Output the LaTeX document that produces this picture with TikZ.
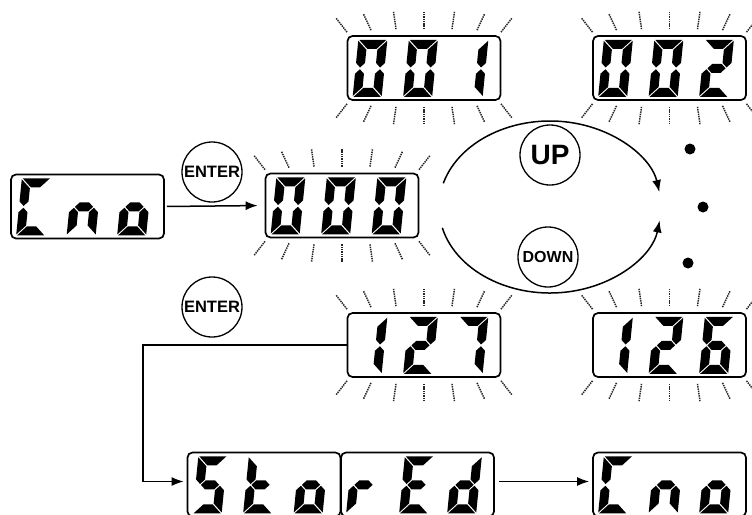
\documentclass[tikz,border=0pt]{standalone}
\usepackage{fontspec}
\newfontfamily\labfont{Liberation Sans}
\usetikzlibrary{arrows.meta,calc}
% seven-segment segments (local coords, y up, digit 29 x 57)
\newcommand\dsA{\fill[seg] (0.9,57)--(28.1,57)--(19.1,48)--(9.9,48)--cycle;}
\newcommand\dsD{\fill[seg] (0.9,0)--(28.1,0)--(19.1,9)--(9.9,9)--cycle;}
\newcommand\dsF{\fill[seg] (0,56.1)--(9,47.1)--(9,33.9)--(4.5,29.4)--(0,33.9)--cycle;}
\newcommand\dsB{\fill[seg] (29,56.1)--(29,33.9)--(24.5,29.4)--(20,33.9)--(20,47.1)--cycle;}
\newcommand\dsE{\fill[seg] (0,0.9)--(9,9.9)--(9,23.1)--(4.5,27.6)--(0,23.1)--cycle;}
\newcommand\dsC{\fill[seg] (29,0.9)--(29,23.1)--(24.5,27.6)--(20,23.1)--(20,9.9)--cycle;}
\newcommand\dsG{\fill[seg] (5.4,28.5)--(9.9,33)--(19.1,33)--(23.6,28.5)--(19.1,24)--(9.9,24)--cycle;}
\newcommand\segdigit[3]{\begin{scope}[x=1pt,y=1pt,shift={(#1.south west)},shift={(#2,4)},xslant=0.1]#3\end{scope}}
\newcommand\flashrays[1]{%
  \foreach \dx/\gy/\a in {-77/3/-38,-53/5/-25,-28/6/-8,0/6/0,28/6/8,53/5/25,77/3/38}{%
    \draw[ray] ($(#1.north)+(\dx,-\gy)$) -- ++({18*sin(\a)},{-18*cos(\a)});
    \draw[ray] ($(#1.south)+(\dx,\gy)$) -- ++({18*sin(\a)},{18*cos(\a)});
  }}
\tikzset{
  seg/.style={fill=black},
  disp/.style={draw, line width=1.7pt, rounded corners=5pt, minimum width=153pt, minimum height=64pt, inner sep=0pt},
  btn/.style={draw, circle, line width=1.3pt, minimum size=60pt, inner sep=0pt},
  ray/.style={line width=1.5pt, dash pattern=on 1.4pt off 0.9pt, black!85},
  conn/.style={line width=1.5pt},
  arrowed/.style={-{Latex[length=12pt,width=9pt]}},
  dotnode/.style={fill=black, circle, minimum size=11pt, inner sep=0pt}
}
\begin{document}
\begin{tikzpicture}[x=1pt,y=-1pt]
\path[use as bounding box] (0,0) rectangle (752,514);
\clip (0,0) rectangle (752,514);
% displays
\node[disp] (cno1) at (87.5,206.5) {};
\node[disp] (b000) at (342,205.5) {};
\node[disp] (b001) at (424,68) {};
\node[disp] (b002) at (669.5,68) {};
\node[disp] (b127) at (424,345) {};
\node[disp] (b126) at (669.5,345) {};
\node[disp] (bsto) at (264,484.5) {};
\node[disp] (bred) at (417.5,484.5) {};
\node[disp] (cno2) at (669.5,484.5) {};
% digits
\segdigit{cno1}{6}{\dsA\dsD\dsE\dsF}
\segdigit{cno1}{56.5}{\dsC\dsE\dsG}
\segdigit{cno1}{107}{\dsC\dsD\dsE\dsG}
\segdigit{b000}{6}{\dsA\dsB\dsC\dsD\dsE\dsF}
\segdigit{b000}{56.5}{\dsA\dsB\dsC\dsD\dsE\dsF}
\segdigit{b000}{107}{\dsA\dsB\dsC\dsD\dsE\dsF}
\segdigit{b001}{6}{\dsA\dsB\dsC\dsD\dsE\dsF}
\segdigit{b001}{56.5}{\dsA\dsB\dsC\dsD\dsE\dsF}
\segdigit{b001}{107}{\dsB\dsC}
\segdigit{b002}{6}{\dsA\dsB\dsC\dsD\dsE\dsF}
\segdigit{b002}{56.5}{\dsA\dsB\dsC\dsD\dsE\dsF}
\segdigit{b002}{107}{\dsA\dsB\dsG\dsE\dsD}
\segdigit{b127}{6}{\dsB\dsC}
\segdigit{b127}{56.5}{\dsA\dsB\dsG\dsE\dsD}
\segdigit{b127}{107}{\dsA\dsB\dsC}
\segdigit{b126}{6}{\dsB\dsC}
\segdigit{b126}{56.5}{\dsA\dsB\dsG\dsE\dsD}
\segdigit{b126}{107}{\dsA\dsF\dsG\dsE\dsD\dsC}
\segdigit{bsto}{6}{\dsA\dsF\dsG\dsC\dsD}
\segdigit{bsto}{56.5}{\dsD\dsE\dsF\dsG}
\segdigit{bsto}{107}{\dsC\dsD\dsE\dsG}
\segdigit{bred}{6}{\dsE\dsG}
\segdigit{bred}{59}{\dsA\dsD\dsE\dsF\dsG}
\segdigit{bred}{107}{\dsB\dsC\dsD\dsE\dsG}
\segdigit{cno2}{6}{\dsA\dsD\dsE\dsF}
\segdigit{cno2}{56.5}{\dsC\dsE\dsG}
\segdigit{cno2}{107}{\dsC\dsD\dsE\dsG}
% flashing rays
\flashrays{b000}
\flashrays{b001}
\flashrays{b002}
\flashrays{b127}
\flashrays{b126}
% buttons
\node[btn] (enter1) at (212,172) {\labfont\bfseries\fontsize{16.5}{18}\selectfont ENTER};
\node[btn] (enter2) at (212,307) {\labfont\bfseries\fontsize{16.5}{18}\selectfont ENTER};
\node[btn] (up) at (550,155) {\labfont\bfseries\fontsize{28}{30}\selectfont UP};
\node[btn] (down) at (548,257) {\labfont\bfseries\fontsize{16}{18}\selectfont DOWN};
% dots
\node[dotnode] (d1) at (690,149) {};
\node[dotnode] (d2) at (703,207) {};
\node[dotnode] (d3) at (688,263) {};
% connectors
\draw[conn,arrowed,shorten <=2pt,shorten >=7pt] (cno1.east) -- (b000.west);
\coordinate (corner) at (143,345);
\draw[conn,arrowed,shorten >=3pt] (b127.west) -- (corner) |- ([yshift=3pt]bsto.west);
\draw[conn,arrowed,shorten <=4pt,shorten >=3pt] ([yshift=3pt]bred.east) -- ([yshift=3pt]cno2.west);
% up/down loop
\coordinate (ec) at (550,207);
\coordinate (upstart) at ($(ec)+(196:111 and 86)$);
\coordinate (downstart) at ($(ec)+(166:111 and 86)$);
\draw[conn,arrowed] (upstart) arc[start angle=196,end angle=350,x radius=111,y radius=86];
\draw[conn,arrowed] (downstart) arc[start angle=166,end angle=9,x radius=111,y radius=86];
\end{tikzpicture}
\end{document}
